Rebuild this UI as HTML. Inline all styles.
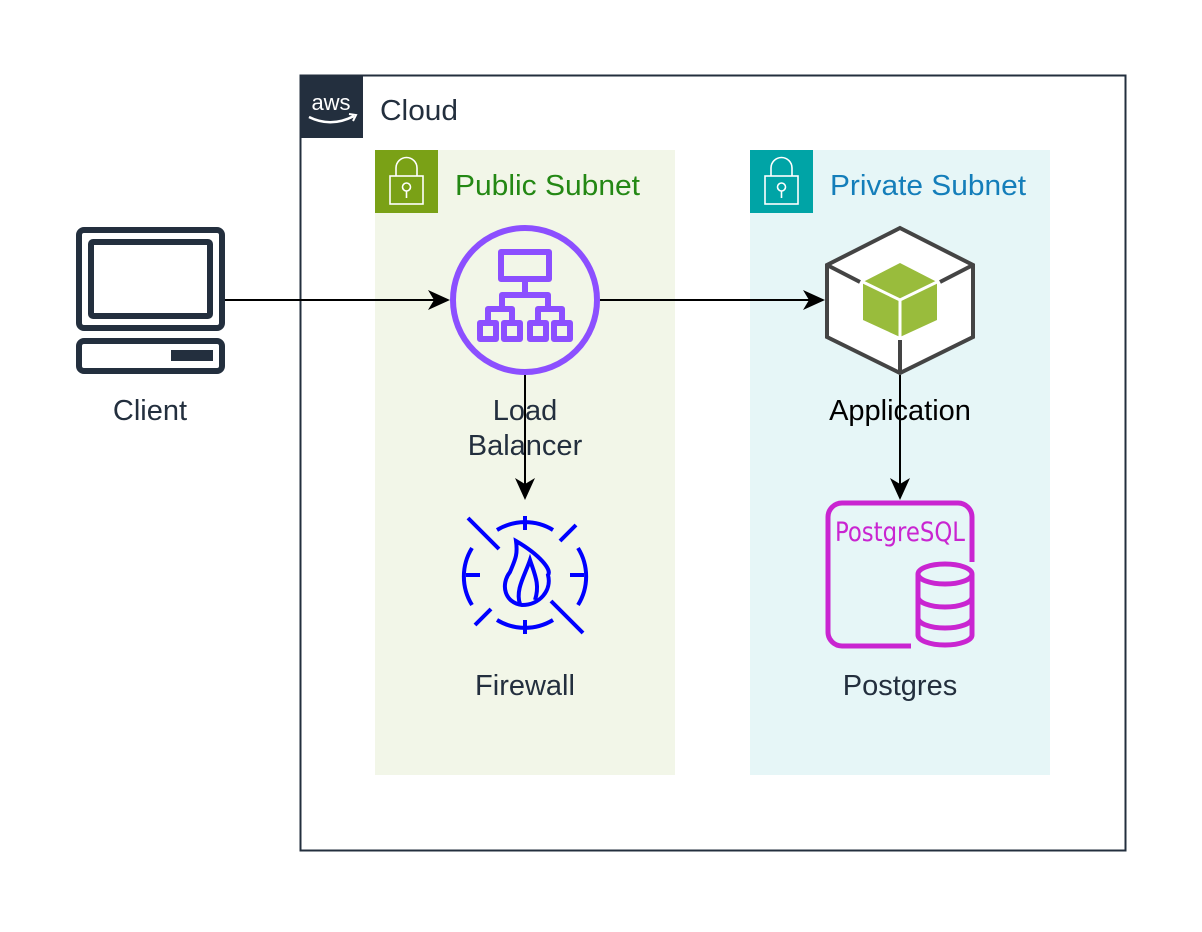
<!DOCTYPE html>
<html><head><meta charset="utf-8"><style>
html,body{margin:0;padding:0;background:#fff;}
body{width:1202px;height:927px;overflow:hidden;}
</style></head><body>
<svg width="1202" height="927" viewBox="0 0 1202 927" xmlns="http://www.w3.org/2000/svg" font-family="Liberation Sans, sans-serif">
<defs>
<marker id="ar" markerWidth="24" markerHeight="24" refX="20" refY="10" orient="auto" markerUnits="userSpaceOnUse">
<path d="M0,0 L22,10 L0,20 L6,10 Z" fill="#000"/>
</marker>
</defs>
<rect width="1202" height="927" fill="#fff"/>
<rect x="300.5" y="75.5" width="825" height="775" fill="#fff" stroke="#232f3e" stroke-width="2"/>
<rect x="300" y="75" width="63" height="63" fill="#232f3e"/>
<text x="331" y="110" fill="#fff" font-size="22" text-anchor="middle">aws</text>
<path d="M309 117 Q331 128 354 116" stroke="#fff" stroke-width="2.5" fill="none"/>
<path d="M349 114 L356 115 L353 121" stroke="#fff" stroke-width="2" fill="none"/>
<text x="380" y="120" fill="#232f3e" font-size="29" textLength="78" lengthAdjust="spacingAndGlyphs">Cloud</text>
<rect x="375" y="150" width="300" height="625" fill="#f2f6e8"/>
<rect x="375" y="150" width="63" height="63" fill="#7aa116"/>
<g stroke="#fff" stroke-width="1.6" fill="none">
<rect x="390" y="176" width="33" height="28"/><path d="M396 176 v-8 a10.5 10.5 0 0 1 21 0 v8"/><circle cx="406.5" cy="187" r="4"/><path d="M406.5 191 v7"/></g>
<text x="455" y="195" fill="#248814" font-size="29" textLength="185" lengthAdjust="spacingAndGlyphs">Public Subnet</text>
<rect x="750" y="150" width="300" height="625" fill="#e6f6f7"/>
<rect x="750" y="150" width="63" height="63" fill="#00a4a6"/>
<g stroke="#fff" stroke-width="1.6" fill="none">
<rect x="765" y="176" width="33" height="28"/><path d="M771 176 v-8 a10.5 10.5 0 0 1 21 0 v8"/><circle cx="781.5" cy="187" r="4"/><path d="M781.5 191 v7"/></g>
<text x="830" y="195" fill="#147eba" font-size="29" textLength="196" lengthAdjust="spacingAndGlyphs">Private Subnet</text>
<g stroke="#232f3e" stroke-width="6" fill="none">
<rect x="79" y="230" width="143" height="98" rx="5"/>
<rect x="91" y="242" width="119" height="74" rx="2"/>
<rect x="79" y="341" width="143" height="30" rx="5"/>
</g>
<rect x="171" y="350" width="42" height="11" fill="#232f3e"/>
<text x="150" y="420" fill="#232f3e" font-size="29" text-anchor="middle">Client</text>
<circle cx="525" cy="300" r="72" fill="none" stroke="#8c4fff" stroke-width="6"/>
<g stroke="#8c4fff" stroke-width="6" fill="none" stroke-linejoin="round">
<rect x="501" y="252" width="48" height="27"/>
<path d="M525 279 v16 M502 310 v-15 h46 v15"/>
<rect x="480" y="323" width="16" height="16"/><rect x="504" y="323" width="16" height="16"/>
<rect x="530" y="323" width="16" height="16"/><rect x="554" y="323" width="16" height="16"/>
<path d="M488 323 v-14 h24 v14 M538 323 v-14 h24 v14"/>
</g>
<text x="525" y="420" fill="#232f3e" font-size="29" text-anchor="middle">Load</text>
<text x="525" y="455" fill="#232f3e" font-size="29" text-anchor="middle">Balancer</text>
<g stroke="#0000ff" stroke-width="4" fill="none">
<path d="M497 530 A54 54 0 0 1 553 530"/>
<path d="M578 548 A54 54 0 0 1 578 605"/>
<path d="M553 620 A54 54 0 0 1 497 620"/>
<path d="M472 605 A54 54 0 0 1 472 548"/>
<path d="M525 516 v14 M525 620 v14 M466 575 h14 M570 575 h14"/>
<path d="M468 518 L499 549 M551 601 L583 633 M560 541 L576 525 M475 625 L491 609"/>
<path d="M516 541 C540 555 552 570 548 575 C552 590 540 605 522 605 C505 603 500 585 510 572 C515 560 518 555 516 541 Z"/>
<path d="M520 604 C515 590 525 575 530 560 C535 575 540 585 535 600"/>
</g>
<text x="525" y="695" fill="#232f3e" font-size="29" text-anchor="middle">Firewall</text>
<path d="M900 228 L973 265 L973 337 L900 373 L827 337 L827 265 Z" fill="#fff" stroke="#444" stroke-width="4"/>
<path d="M827 265 L860 282 M973 265 L940 282 M900 340 V373" stroke="#444" stroke-width="4"/>
<path d="M900 263 L937 282 L937 320 L900 337 L863 320 L863 282 Z" fill="#99bc3c"/>
<path d="M863 282 L900 300 L937 282 M900 300 V337" stroke="#fff" stroke-width="3" fill="none"/>
<text x="900" y="420" fill="#000" font-size="29" text-anchor="middle">Application</text>
<path d="M911 646 H842 a14 14 0 0 1 -14 -14 V517 a14 14 0 0 1 14 -14 H958 a14 14 0 0 1 14 14 V562" fill="none" stroke="#c925d1" stroke-width="5"/>
<text x="900" y="541" fill="#c925d1" font-size="27" text-anchor="middle" font-family="DejaVu Sans Condensed, Liberation Sans Narrow, sans-serif" textLength="130" lengthAdjust="spacingAndGlyphs">PostgreSQL</text>
<g stroke="#c925d1" stroke-width="5" fill="#e6f6f7">
<path d="M918 574 V635 a27 10 0 0 0 54 0 V574"/>
<ellipse cx="945" cy="574" rx="27" ry="10"/>
<path d="M918 597 a27 10 0 0 0 54 0 M918 618 a27 10 0 0 0 54 0" fill="none"/>
</g>
<text x="900" y="695" fill="#232f3e" font-size="29" text-anchor="middle">Postgres</text>
<g stroke="#000" stroke-width="2" fill="none">
<path d="M225 300 H448" marker-end="url(#ar)"/>
<path d="M600 300 H823" marker-end="url(#ar)"/>
<path d="M525 375 V498" marker-end="url(#ar)"/>
<path d="M900 375 V498" marker-end="url(#ar)"/>
</g>
</svg>
</body></html>
